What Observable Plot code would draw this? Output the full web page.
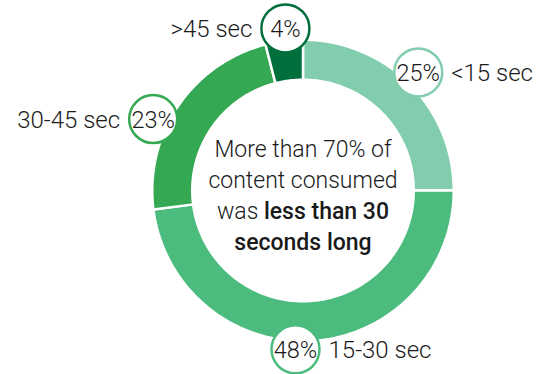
<!DOCTYPE html>
<html><head><meta charset="utf-8">
<script src="https://cdn.jsdelivr.net/npm/d3@7"></script>
<script src="https://cdn.jsdelivr.net/npm/@observablehq/plot@0.6"></script>
<style>html,body{margin:0;padding:0;background:#fff;overflow:hidden}</style>
</head><body><div id="chart"></div>
<script>
// ---- data ----
const categories = ["<15 sec", "15-30 sec", "30-45 sec", ">45 sec"];
const shares = [25, 48, 23, 4];
const percentLabels = ["25%", "48%", "23%", "4%"];
const centerLines = ["More than 70% of", "content consumed", "was less than 30", "seconds long"];
const emphasis = ["less than 30", "seconds long"];
const colors = ["#82cdad", "#4cbc7e", "#35a853", "#006f3b"];

// ---- layout ----
const W = 549, H = 374, cx = 302.5, cy = 190;
const sep = 2.5;
const rIn = 112 - sep / 2, rOut = 149.5 + sep / 2;
const badgeR = 24;
const badgeNudgeDeg = [-0.7, 6.3, -8.7, 1.0];
const badgeDist = [165, 159, 166, 163];
const labelSide = ["right", "right", "left", "left"];
const fontFamily = "Roboto, 'Liberation Sans', sans-serif";

const total = d3.sum(shares);
let acc = 0;
const slices = shares.map((v, i) => {
  const a0 = acc / total; acc += v; const a1 = acc / total;
  return {cat: categories[i], value: v, a0, a1, i};
});

const polar = (f, r) => {
  const t = 2 * Math.PI * f;
  return [r * Math.sin(t), -r * Math.cos(t)];
};

const ringMarks = slices.map(s => {
  const pts = [];
  const n = Math.max(8, Math.ceil((s.a1 - s.a0) * 360));
  for (let k = 0; k <= n; k++) {
    const f = s.a0 + (s.a1 - s.a0) * k / n;
    const [x, y] = polar(f, rOut); pts.push({x, y});
  }
  for (let k = n; k >= 0; k--) {
    const f = s.a0 + (s.a1 - s.a0) * k / n;
    const [x, y] = polar(f, rIn); pts.push({x, y});
  }
  pts.push(pts[0]);
  return Plot.line(pts, {x: "x", y: "y", fill: colors[s.i], stroke: "white", strokeWidth: sep, strokeLinejoin: "miter"});
});

const badges = slices.map(s => {
  const mid = (s.a0 + s.a1) / 2 + badgeNudgeDeg[s.i] / 360;
  const [x, y] = polar(mid, badgeDist[s.i]);
  const side = labelSide[s.i];
  const lx = side === "right" ? x + badgeR + 9 : x - badgeR - 9;
  return {...s, x, y, lx, side, pct: percentLabels[s.i]};
});

const centerData = centerLines.map((t, k) => ({t, x: 0, y: 156 - cy + k * 31}));

const chart = Plot.plot({
  width: W, height: H,
  margin: 0,
  x: {domain: [-cx, W - cx], range: [0, W], axis: null},
  y: {domain: [-cy, H - cy], range: [0, H], axis: null},
  style: {fontFamily, background: "#fff", overflow: "visible"},
  marks: [
    ...ringMarks,
    Plot.dot(badges, {x: "x", y: "y", r: badgeR, fill: "white", stroke: (d) => colors[d.i], strokeWidth: 2.5}),
    Plot.text(badges, {x: "x", y: "y", text: "pct", fontSize: 23.5, fontWeight: 300, fill: "#1a1a1a", dy: 1}),
    Plot.text(badges.filter(d => d.side === "right"), {x: "lx", y: "y", text: "cat", textAnchor: "start", fontSize: 24, fontWeight: 300, fill: "#1a1a1a", dy: 1}),
    Plot.text(badges.filter(d => d.side === "left"), {x: "lx", y: "y", text: "cat", textAnchor: "end", fontSize: 24, fontWeight: 300, fill: "#1a1a1a", dy: 1}),
    Plot.text(centerData, {x: "x", y: "y", text: "t", lineAnchor: "bottom", fontSize: 23, fontWeight: 300, fill: "#1a1a1a", className: "center-text"})
  ]
});

// bold emphasis inside the centre text
d3.select(chart).selectAll("g.center-text text, .center-text text").each(function() {
  const el = d3.select(this);
  const txt = el.text();
  const ph = emphasis.find(p => txt.includes(p));
  if (!ph) return;
  const idx = txt.indexOf(ph);
  const before = txt.slice(0, idx), after = txt.slice(idx + ph.length);
  el.text(null);
  if (before) el.append("tspan").text(before);
  el.append("tspan").attr("font-weight", 500).text(ph);
  if (after) el.append("tspan").text(after);
});

document.getElementById("chart").appendChild(chart);
</script>
</body></html>
